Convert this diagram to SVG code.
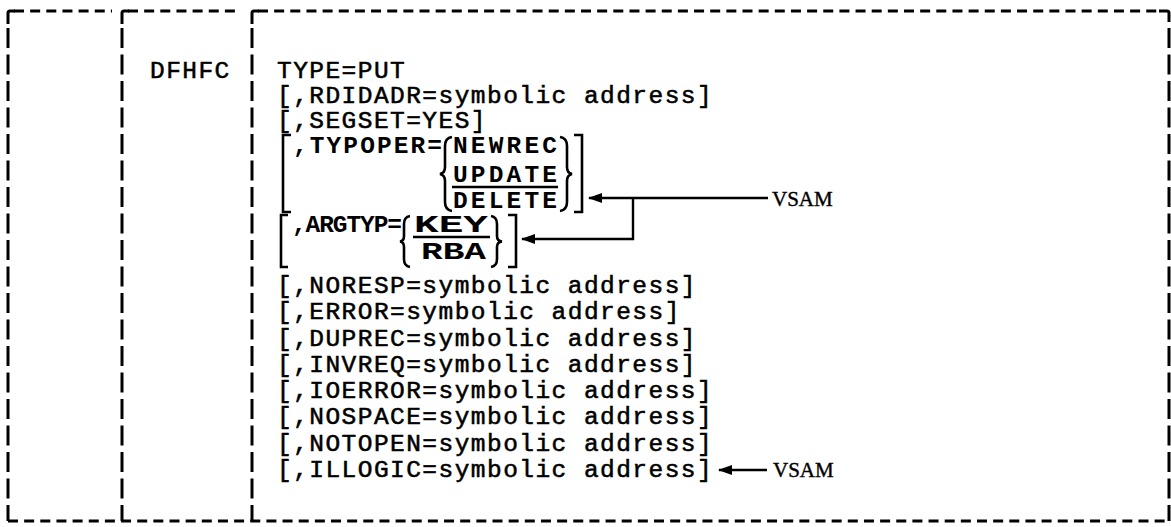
<svg xmlns="http://www.w3.org/2000/svg" width="1171" height="527" viewBox="0 0 1171 527">
  <defs>
    <style>
      .fr{fill:none;stroke:#000;stroke-width:3}
      .hd{stroke-dasharray:10 6.15}
      .vd{stroke-dasharray:20 6.5}
      .t{font-family:"Liberation Mono","DejaVu Sans Mono",monospace;font-size:24.5px;letter-spacing:1.45px;fill:#000;stroke:#000;stroke-width:0.55}
      .tb{font-family:"Liberation Mono","DejaVu Sans Mono",monospace;font-size:24.5px;font-weight:bold;fill:#000}
      .tk{font-family:"Liberation Mono","DejaVu Sans Mono",monospace;font-size:24.5px;font-weight:bold;fill:#000}
      .br{fill:none;stroke:#000;stroke-width:2.6;stroke-linejoin:miter}
      .ul{stroke:#000;stroke-width:2.4}
      .cn{fill:none;stroke:#000;stroke-width:2.4}
      .lab{font-family:"Liberation Serif","DejaVu Serif",serif;font-size:21px;fill:#000;stroke:#000;stroke-width:0.4}
    </style>
    <marker id="ah" viewBox="0 0 14 10" refX="13" refY="5" markerWidth="14" markerHeight="10" markerUnits="userSpaceOnUse" orient="auto">
      <path d="M0 0 L14 5 L0 10 Z" fill="#000"/>
    </marker>
  </defs>
  <rect width="1171" height="527" fill="#fff"/>

  <!-- frame: three typed columns with dashed rules -->
  <g id="frame">
    <path class="fr hd" d="M14 11 H112"/>
    <path class="fr hd" d="M128 11 H240"/>
    <path class="fr hd" d="M258 11 H1160"/>
    <path class="fr" d="M8 24 V13 Q8 11 10 11 H15"/>
    <path class="fr" d="M122 24 V13 Q122 11 124 11 H129"/>
    <path class="fr" d="M252 24 V13 Q252 11 254 11 H259"/>
    <path class="fr" d="M1159 11 H1167 Q1169 11 1169 13 V22"/>
    <path class="fr vd" d="M8 28 V521"/>
    <path class="fr vd" d="M122 28 V521"/>
    <path class="fr vd" d="M252 28 V521"/>
    <path class="fr vd" d="M1169 28 V521"/>
    <path class="fr hd" d="M8 521 H1169"/>
  </g>

  <!-- macro name -->
  <g id="macro-name">
    <text class="t" x="150" y="78">DFHFC</text>
  </g>

  <!-- operands -->
  <g id="operands">
    <text class="t" x="277" y="78">TYPE=PUT</text>
    <text class="t" x="277" y="103">[,RDIDADR=symbolic address]</text>
    <text class="t" x="277" y="128">[,SEGSET=YES]</text>
    <text class="t" x="277" y="292.5">[,NORESP=symbolic address]</text>
    <text class="t" x="277" y="318.5">[,ERROR=symbolic address]</text>
    <text class="t" x="277" y="346">[,DUPREC=symbolic address]</text>
    <text class="t" x="277" y="372">[,INVREQ=symbolic address]</text>
    <text class="t" x="277" y="398">[,IOERROR=symbolic address]</text>
    <text class="t" x="277" y="424">[,NOSPACE=symbolic address]</text>
    <text class="t" x="277" y="451">[,NOTOPEN=symbolic address]</text>
    <text class="t" x="277" y="477">[,ILLOGIC=symbolic address]</text>
  </g>

  <!-- TYPOPER choice block -->
  <g id="typoper">
    <path class="br" d="M291 135 H283 V212 H291"/>
    <text class="tb" x="293" y="153" textLength="149" lengthAdjust="spacing">,TYPOPER=</text>
    <path class="br" d="M452 137 Q445 138 445 146 V167 Q445 173 440 174 Q445 175 445 181 V202 Q445 210 452 211"/>
    <text class="tb" x="453" y="153" textLength="104" lengthAdjust="spacing">NEWREC</text>
    <text class="tb" x="453" y="181.5" textLength="104" lengthAdjust="spacing">UPDATE</text>
    <line class="ul" x1="452" y1="187" x2="558" y2="187"/>
    <text class="tb" x="453" y="208" textLength="104" lengthAdjust="spacing">DELETE</text>
    <path class="br" d="M560 137 Q567 138 567 146 V167 Q567 173 572 174 Q567 175 567 181 V202 Q567 210 560 211"/>
    <path class="br" d="M574 135 H582 V212 H574"/>
  </g>

  <!-- ARGTYP choice block -->
  <g id="argtyp">
    <path class="br" d="M288 215 H281 V267 H288"/>
    <text class="tb" x="292" y="232" textLength="110" lengthAdjust="spacing">,ARGTYP=</text>
    <path class="br" d="M410 216 Q404 217 404 224 V236 Q404 241 400 241.5 Q404 242 404 247 V259 Q404 266 410 267"/>
    <text class="tk" x="414" y="232" textLength="74" lengthAdjust="spacingAndGlyphs">KEY</text>
    <line class="ul" x1="413" y1="237" x2="490" y2="237"/>
    <text class="tk" x="421" y="259" textLength="65" lengthAdjust="spacingAndGlyphs">RBA</text>
    <path class="br" d="M491 216 Q497 217 497 224 V236 Q497 241 502 241.5 Q497 242 497 247 V259 Q497 266 491 267"/>
    <path class="br" d="M508 215 H516 V267 H508"/>
  </g>

  <!-- VSAM notes -->
  <g id="vsam-note-1">
    <text class="lab" x="772" y="206">VSAM</text>
  </g>
  <g id="vsam-note-2">
    <text class="lab" x="773" y="477">VSAM</text>
  </g>

  <!-- connectors -->
  <g id="connectors">
    <path class="cn" d="M768 198 H589" marker-end="url(#ah)"/>
    <path class="cn" d="M633 198 V239 H522" marker-end="url(#ah)"/>
    <path class="cn" d="M767 470 H719" marker-end="url(#ah)"/>
  </g>
</svg>
